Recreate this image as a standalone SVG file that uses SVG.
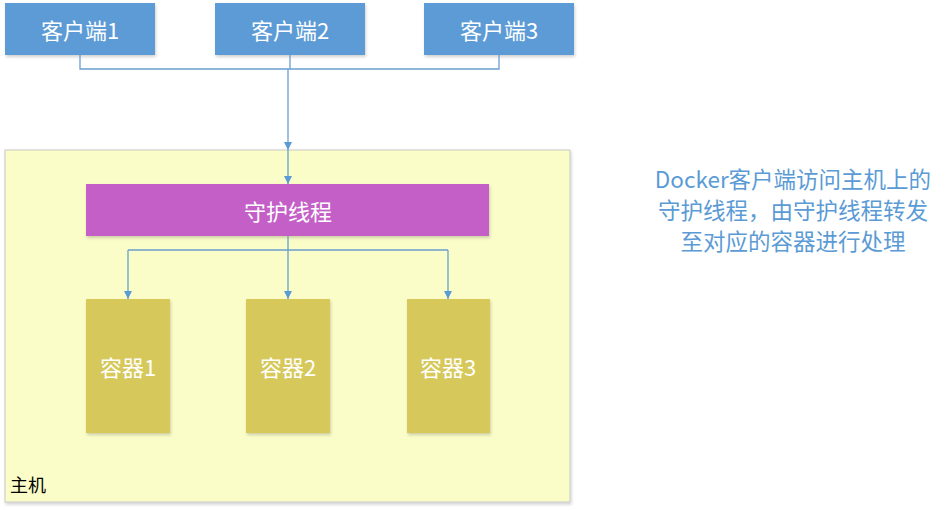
<svg xmlns="http://www.w3.org/2000/svg" width="949" height="511" viewBox="0 0 949 511">
<style>
text{font-family:"Noto Sans CJK SC","Liberation Sans",sans-serif;}
.client{fill:#5b9bd5;}
.w{fill:#ffffff;font-size:22px;text-anchor:middle;dominant-baseline:central;}
.cont{fill:#d6c85a;}
.conn{fill:none;stroke:#6a9fcf;stroke-width:1.3;}
.note{fill:#5b9bd5;font-size:22.5px;text-anchor:middle;}
</style>
<defs>
<filter id="sh" x="-10%" y="-10%" width="130%" height="130%">
<feDropShadow dx="1" dy="2" stdDeviation="1.5" flood-color="#000" flood-opacity="0.18"/>
</filter>
<marker id="arr" viewBox="0 0 10 10" refX="10" refY="5" markerWidth="8" markerHeight="8" orient="auto" markerUnits="userSpaceOnUse">
<path d="M0,0 L10,5 L0,10 z" fill="#5b9bd5"/>
</marker>
</defs>
<g id="host">
<rect x="5" y="150" width="565" height="352" fill="#fafdc8" stroke="#c8c8c8" stroke-width="1" filter="url(#sh)"/>
<text x="10" y="492" style="font-size:18px;fill:#000;">主机</text>
</g>
<g id="client1"><rect class="client" x="5" y="3" width="150" height="52" filter="url(#sh)"/><text class="w" x="80" y="29">客户端1</text></g>
<g id="client2"><rect class="client" x="215" y="3" width="150" height="52" filter="url(#sh)"/><text class="w" x="290" y="29">客户端2</text></g>
<g id="client3"><rect class="client" x="424" y="3" width="150" height="52" filter="url(#sh)"/><text class="w" x="499" y="29">客户端3</text></g>
<g id="daemon"><rect x="86" y="184" width="403" height="52" fill="#c45ec8" filter="url(#sh)"/><text class="w" x="288" y="210">守护线程</text></g>
<g id="container1"><rect class="cont" x="86" y="299" width="84" height="134" filter="url(#sh)"/><text class="w" x="128" y="366">容器1</text></g>
<g id="container2"><rect class="cont" x="246" y="299" width="84" height="134" filter="url(#sh)"/><text class="w" x="288" y="366">容器2</text></g>
<g id="container3"><rect class="cont" x="407" y="299" width="83" height="134" filter="url(#sh)"/><text class="w" x="448" y="366">容器3</text></g>
<g id="connectors">
<path class="conn" d="M80,55 V69 H499 V55 M290,55 V69"/>
<path class="conn" d="M288,69 V150" marker-end="url(#arr)"/>
<path class="conn" d="M288,150 V184" marker-end="url(#arr)"/>
<path class="conn" d="M288,236 V250 M128,250 H448"/>
<path class="conn" d="M128,250 V299" marker-end="url(#arr)"/>
<path class="conn" d="M288,250 V299" marker-end="url(#arr)"/>
<path class="conn" d="M448,250 V299" marker-end="url(#arr)"/>
</g>
<g id="note">
<text class="note" x="793" y="188">Docker客户端访问主机上的</text>
<text class="note" x="793" y="219">守护线程，由守护线程转发</text>
<text class="note" x="793" y="250">至对应的容器进行处理</text>
</g>
</svg>
